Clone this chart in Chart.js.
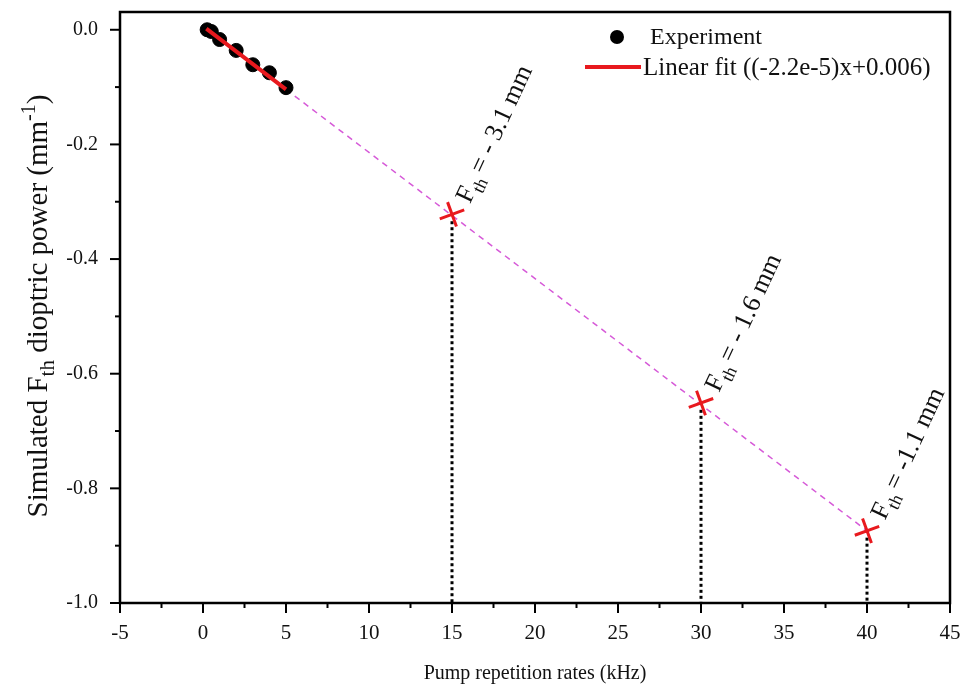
<!DOCTYPE html>
<html>
<head>
<meta charset="utf-8">
<script src="https://cdn.jsdelivr.net/npm/chart.js@4.4.1/dist/chart.umd.min.js"></script>
<style>
  html, body { margin: 0; padding: 0; background: #fff; }
  #wrap { width: 965px; height: 690px; }
</style>
</head>
<body>
<div id="wrap"><canvas id="chart" width="965" height="690"></canvas></div>
<script>
// values
const expX = [0.25, 0.5, 1, 2, 3, 4, 5];
const expY = [0.0, -0.003, -0.017, -0.036, -0.061, -0.075, -0.101];
const fitX = [0.2, 5];
const fitY = [0.002, -0.104];
const extX = [5, 40];
const extY = [-0.104, -0.874];
const simX = [15, 30, 40];
const simY = [-0.322, -0.651, -0.874];
const simLabels = ["= - 3.1 mm", "= - 1.6 mm", "= -1.1 mm"];
const xTicks = [-5, 0, 5, 10, 15, 20, 25, 30, 35, 40, 45];
const yTicks = [0, -0.2, -0.4, -0.6, -0.8, -1.0];

const serif = '"Liberation Serif", "Times New Roman", serif';
const magenta = "#d65ad8";
const red = "#e8191e";

function pts(xs, ys) {
  return xs.map((x, i) => ({ x, y: ys[i] }));
}

const dropLines = simX.map((x, i) => ({
  data: [{ x, y: simY[i] - 0.012 }, { x, y: -1.0 }],
  showLine: true,
  borderColor: "#000",
  borderWidth: 3,
  borderDash: [3, 3],
  pointRadius: 0,
  order: 3,
}));

const frameAndTicks = {
  id: "frameAndTicks",
  afterDatasetsDraw(chart) {
    const { ctx, chartArea: a, scales } = chart;
    ctx.save();
    ctx.strokeStyle = "#000";
    ctx.lineWidth = 2.5;
    ctx.strokeRect(a.left, a.top, a.right - a.left, a.bottom - a.top);
    ctx.lineWidth = 2;
    for (let v = -5; v <= 45; v += 2.5) {
      const px = scales.x.getPixelForValue(v);
      const len = v % 5 === 0 ? 10 : 5;
      ctx.beginPath();
      ctx.moveTo(px, a.bottom);
      ctx.lineTo(px, a.bottom + len);
      ctx.stroke();
    }
    for (let k = 0; k <= 10; k++) {
      const v = -k / 10;
      const py = scales.y.getPixelForValue(v);
      const len = k % 2 === 0 ? 10 : 5;
      ctx.beginPath();
      ctx.moveTo(a.left, py);
      ctx.lineTo(a.left - len, py);
      ctx.stroke();
    }
    ctx.restore();
  },
};

const notes = {
  id: "notes",
  afterDraw(chart) {
    const { ctx, scales } = chart;
    ctx.save();
    ctx.fillStyle = "#111";
    ctx.textBaseline = "alphabetic";
    // rotated F_th labels
    simX.forEach((x, i) => {
      const px = scales.x.getPixelForValue(x);
      const py = scales.y.getPixelForValue(simY[i]);
      ctx.save();
      ctx.translate(px + 18, py - 10);
      ctx.rotate(-65 * Math.PI / 180);
      ctx.font = "26px " + serif;
      ctx.fillText("F", 0, 0);
      let w = ctx.measureText("F").width;
      ctx.font = "18px " + serif;
      ctx.fillText("th", w, 7);
      w += ctx.measureText("th").width + 4;
      ctx.font = "26px " + serif;
      ctx.fillText(simLabels[i], w, 0);
      ctx.restore();
    });
    // y axis title
    ctx.save();
    ctx.translate(47, 306);
    ctx.rotate(-Math.PI / 2);
    const parts = [
      ["Simulated F", 29, 0],
      ["th", 21, 7],
      [" dioptric power (mm", 29, 0],
      ["-1", 20, -12],
      [")", 29, 0],
    ];
    let total = 0;
    parts.forEach(([t, s]) => { ctx.font = s + "px " + serif; total += ctx.measureText(t).width; });
    let cx = -total / 2;
    parts.forEach(([t, s, dy]) => {
      ctx.font = s + "px " + serif;
      ctx.fillText(t, cx, dy);
      cx += ctx.measureText(t).width;
    });
    ctx.restore();
    // legend
    ctx.font = "24px " + serif;
    ctx.textBaseline = "middle";
    ctx.beginPath();
    ctx.arc(617, 37, 7, 0, Math.PI * 2);
    ctx.fillStyle = "#000";
    ctx.fill();
    ctx.fillStyle = "#111";
    ctx.fillText("Experiment", 650, 38);
    ctx.strokeStyle = red;
    ctx.lineWidth = 4;
    ctx.beginPath();
    ctx.moveTo(585, 67);
    ctx.lineTo(641, 67);
    ctx.stroke();
    ctx.font = "25px " + serif;
    ctx.fillText("Linear fit ((-2.2e-5)x+0.006)", 643, 68);
    ctx.restore();
  },
};

new Chart(document.getElementById("chart"), {
  type: "scatter",
  data: {
    datasets: [
      {
        label: "Experiment",
        data: pts(expX, expY),
        backgroundColor: "#000",
        borderColor: "#000",
        pointRadius: 7,
        order: 2,
      },
      {
        label: "Linear fit",
        data: pts(fitX, fitY),
        showLine: true,
        borderColor: red,
        borderWidth: 4,
        pointRadius: 0,
        order: 0,
      },
      {
        label: "extension",
        data: pts(extX, extY),
        showLine: true,
        borderColor: magenta,
        borderWidth: 1.5,
        borderDash: [6, 5],
        pointRadius: 0,
        order: 4,
      },
      ...dropLines,
      {
        label: "simulated",
        data: pts(simX, simY),
        pointStyle: "cross",
        pointRadius: 13,
        pointRotation: -20,
        borderColor: red,
        borderWidth: 3,
        order: 1,
      },
    ],
  },
  options: {
    responsive: false,
    animation: false,
    layout: { autoPadding: false, padding: { top: 12, right: 15, left: 0, bottom: 0 } },
    plugins: { legend: { display: false }, tooltip: { enabled: false } },
    scales: {
      x: {
        type: "linear",
        min: -5,
        max: 45,
        afterBuildTicks: (s) => { s.ticks = xTicks.map((v) => ({ value: v })); },
        afterFit: (s) => { s.height = 87; s.paddingLeft = 0; s.paddingRight = 0; },
        grid: { display: false, drawTicks: false },
        border: { display: false },
        ticks: {
          padding: 18,
          color: "#111",
          font: { family: serif, size: 21 },
          maxRotation: 0,
          autoSkip: false,
        },
        title: {
          display: true,
          text: "Pump repetition rates (kHz)",
          color: "#111",
          font: { family: serif, size: 20 },
          padding: { top: 12 },
        },
      },
      y: {
        type: "linear",
        min: -1.0,
        max: 0.031,
        afterBuildTicks: (s) => { s.ticks = yTicks.map((v) => ({ value: v })); },
        afterFit: (s) => { s.width = 120; s.paddingTop = 0; s.paddingBottom = 0; },
        grid: { display: false, drawTicks: false },
        border: { display: false },
        ticks: {
          padding: 22,
          color: "#111",
          font: { family: serif, size: 20 },
          autoSkip: false,
          callback: (v) => v.toFixed(1),
        },
      },
    },
  },
  plugins: [frameAndTicks, notes],
});
</script>
</body>
</html>
